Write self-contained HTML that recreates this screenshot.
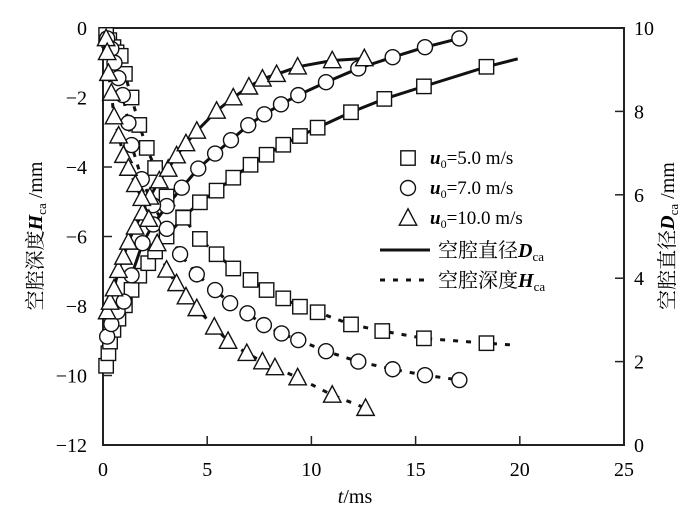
<!DOCTYPE html>
<html><head><meta charset="utf-8"><style>
body{margin:0;background:#fff}
svg{display:block;font-family:"Liberation Serif","Noto Serif CJK SC",serif}
</style></head><body>
<svg id="c" width="700" height="524"></svg>
<script>
const xTicks=[0,5,10,15,20,25];
const hTicks=[0,-2,-4,-6,-8,-10,-12];
const dTicks=[0,2,4,6,8,10];
const tSq=[0.15,0.26,0.34,0.5,0.74,1.05,1.37,1.74,2.17,2.5,3.05,3.85,4.65,5.45,6.25,7.08,7.85,8.65,9.45,10.3,11.9,13.5,15.4,18.4];
const dSq=[1.9,2.2,2.48,2.76,3.03,3.35,3.72,4.06,4.36,4.64,5.0,5.46,5.82,6.1,6.41,6.72,6.96,7.2,7.41,7.61,7.98,8.3,8.6,9.07];
const tCi=[0.2,0.4,0.7,1.0,1.37,1.9,2.41,3.06,3.78,4.57,5.38,6.14,6.97,7.74,8.54,9.37,10.7,12.25,13.9,15.45,17.1];
const dCi=[2.6,2.9,3.2,3.44,4.07,4.84,5.29,5.73,6.17,6.63,6.99,7.31,7.67,7.93,8.17,8.39,8.7,9.03,9.3,9.54,9.75];
const tTr=[0.2,0.34,0.53,0.74,0.98,1.22,1.54,1.9,2.25,2.7,3.13,3.53,3.98,4.5,5.45,6.25,7.0,7.65,8.33,9.34,11.0,12.54];
const dTr=[3.2,3.43,3.75,4.19,4.51,4.87,5.23,5.57,5.95,6.34,6.62,6.94,7.23,7.53,8.01,8.33,8.59,8.78,8.89,9.07,9.22,9.27];
const tHSq=[0.15,0.3,0.5,0.65,0.85,1.05,1.37,1.74,2.1,2.5,3.05,3.85,4.65,5.45,6.25,7.08,7.85,8.65,9.45,10.3,11.9,13.4,15.4,18.4];
const hSq=[-0.2,-0.35,-0.55,-0.7,-0.8,-1.32,-2.0,-2.79,-3.45,-4.03,-4.85,-5.46,-6.07,-6.51,-6.92,-7.25,-7.54,-7.78,-8.02,-8.18,-8.53,-8.72,-8.93,-9.07];
const tHCi=[0.2,0.4,0.55,0.74,0.95,1.22,1.37,1.86,2.4,3.06,3.7,4.5,5.38,6.1,6.93,7.72,8.57,9.37,10.7,12.25,13.9,15.45,17.1];
const hCi=[-0.3,-0.6,-1.0,-1.44,-1.93,-2.73,-3.37,-4.35,-5.1,-5.78,-6.51,-7.09,-7.54,-7.92,-8.21,-8.55,-8.79,-8.98,-9.3,-9.6,-9.82,-9.99,-10.13];
const tHTr=[0.15,0.2,0.26,0.4,0.53,0.75,0.98,1.22,1.55,1.86,2.2,2.6,3.05,3.53,3.98,4.5,5.34,6.0,6.9,7.65,8.25,9.34,11.0,12.6];
const hTr=[-0.3,-0.7,-1.3,-1.87,-2.55,-3.1,-3.66,-4.03,-4.5,-4.9,-5.5,-6.2,-6.96,-7.35,-7.73,-8.07,-8.6,-9.01,-9.36,-9.6,-9.77,-10.06,-10.56,-10.94];
const L=103,R=624,T=28,B=445;
const X=t=>L+t/25*(R-L);
const YH=h=>T+(-h)/12*(B-T);
const YD=d=>B-d/10*(B-T);
const S=document.getElementById('c');const NS='http://www.w3.org/2000/svg';
function mk(tag,at,txt){const e=document.createElementNS(NS,tag);for(const k in at)e.setAttribute(k,at[k]);if(txt!==undefined)e.textContent=txt;S.appendChild(e);return e;}
let e;
e=mk('rect',{x:L,y:T,width:R-L,height:B-T,fill:'none',stroke:'#222','stroke-width':2});


xTicks.forEach(v=>{mk('line',{x1:X(v),x2:X(v),y1:B,y2:B-9,stroke:'#222','stroke-width':1.5});
e=mk('text',{x:X(v),y:B+31,'font-size':20,'text-anchor':'middle'},v);

});
hTicks.forEach(v=>{mk('line',{x1:L,x2:L+9,y1:YH(v),y2:YH(v),stroke:'#222','stroke-width':1.5});
e=mk('text',{x:L-16,y:YH(v)+7,'font-size':20,'text-anchor':'end'},v<0?'\u2212'+(-v):v);

});
dTicks.forEach(v=>{mk('line',{x1:R,x2:R-9,y1:YD(v),y2:YD(v),stroke:'#222','stroke-width':1.5});
e=mk('text',{x:R+10,y:YD(v)+7,'font-size':20},v);

});
e=mk('text',{x:355,y:503,'font-size':20,'text-anchor':'middle'});
e.innerHTML='<tspan font-style="italic">t</tspan>/ms';


e=mk('text',{transform:'translate(42,236) rotate(-90)','font-size':20,'text-anchor':'middle'});
e.innerHTML='空腔深度<tspan font-style="italic" font-weight="bold">H</tspan><tspan font-size="13" dy="4">ca</tspan><tspan dy="-4"> /mm</tspan>';


e=mk('text',{transform:'translate(674,236) rotate(-90)','font-size':20,'text-anchor':'middle'});
e.innerHTML='空腔直径<tspan font-style="italic" font-weight="bold">D</tspan><tspan font-size="13" dy="4">ca</tspan><tspan dy="-4"> /mm</tspan>';


function line(ts,vs,Y,dash,name){const p=ts.map((t,i)=>X(t)+','+Y(vs[i])).join(' ');
const el=mk('polyline',{points:p,fill:'none',stroke:'#111','stroke-width':3,'stroke-dasharray':dash?'5 8':'none'});

}
function marker(x,y,k){const s=7.2;let el;
if(k==0)el=mk('rect',{x:x-s,y:y-s,width:2*s,height:2*s,fill:'#fff',stroke:'#111','stroke-width':1.4});
else if(k==1)el=mk('circle',{cx:x,cy:y,r:s+0.3,fill:'#fff',stroke:'#111','stroke-width':1.4});
else el=mk('polygon',{points:`${x},${y-s-2} ${x-s-1.5},${y+s} ${x+s+1.5},${y+s}`,fill:'#fff',stroke:'#111','stroke-width':1.4});
return el;}
function pts(ts,vs,Y,k,name){ts.forEach((t,i)=>{const el=marker(X(t),Y(vs[i]),k);

});}
line(tSq.concat([19.9]),dSq.concat([9.26]),YD,false,'diameter-line-5');
line(tCi,dCi,YD,false,'diameter-line-7');
line(tTr,dTr,YD,false,'diameter-line-10');
line(tHSq.concat([19.6]),hSq.concat([-9.12]),YH,true,'depth-line-5');
line(tHCi,hCi,YH,true,'depth-line-7');
line(tHTr,hTr,YH,true,'depth-line-10');
pts(tSq,dSq,YD,0,'diameter-point-5');pts(tHSq,hSq,YH,0,'depth-point-5');
pts(tCi,dCi,YD,1,'diameter-point-7');pts(tHCi,hCi,YH,1,'depth-point-7');
pts(tTr,dTr,YD,2,'diameter-point-10');pts(tHTr,hTr,YH,2,'depth-point-10');
const lg=[['5.0',0,158],['7.0',1,188],['10.0',2,218]];
lg.forEach(([v,k,y])=>{const m=marker(408,y,k);


const t=mk('text',{x:430,y:y+6,'font-size':19});
t.innerHTML='<tspan font-style="italic" font-weight="bold">u</tspan><tspan font-size="12" dy="4">0</tspan><tspan dy="-4">='+v+' m/s</tspan>';

});
e=mk('line',{x1:380,x2:430,y1:250,y2:250,stroke:'#111','stroke-width':3});


e=mk('line',{x1:380,x2:430,y1:280,y2:280,stroke:'#111','stroke-width':3,'stroke-dasharray':'5 8'});


e=mk('text',{x:438,y:257,'font-size':20});
e.innerHTML='空腔直径<tspan font-style="italic" font-weight="bold">D</tspan><tspan font-size="13" dy="4">ca</tspan>';


e=mk('text',{x:438,y:287,'font-size':20});
e.innerHTML='空腔深度<tspan font-style="italic" font-weight="bold">H</tspan><tspan font-size="13" dy="4">ca</tspan>';


</script>
</body></html>
